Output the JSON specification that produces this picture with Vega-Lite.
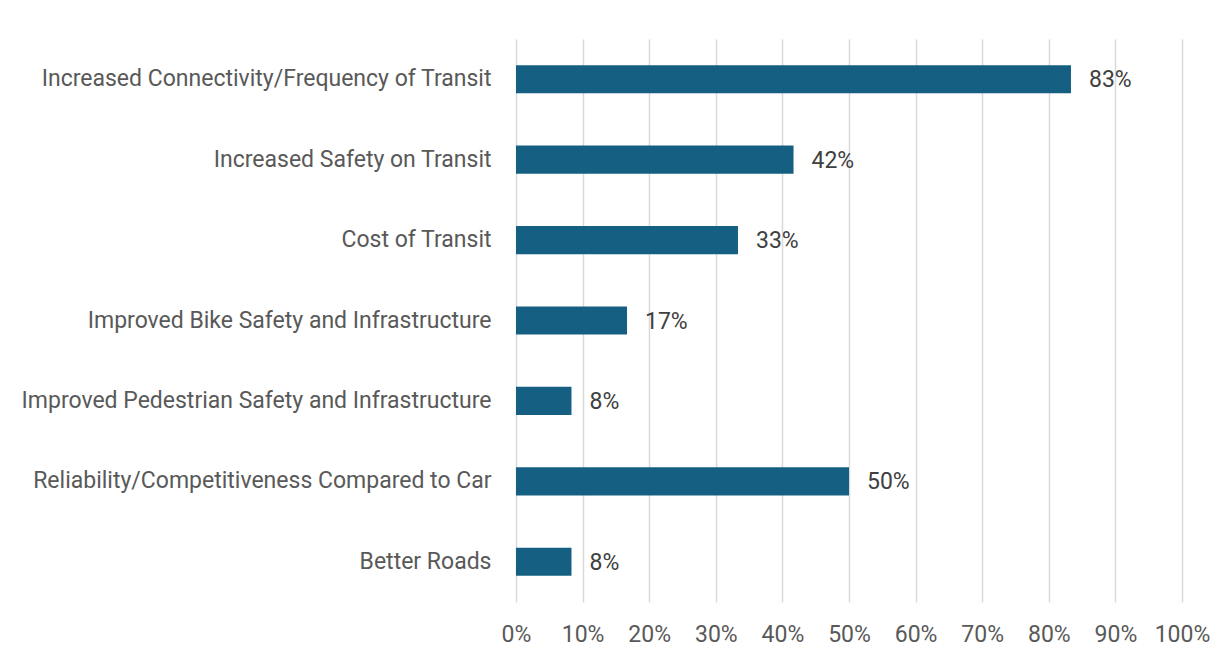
{
  "$schema": "https://vega.github.io/schema/vega-lite/v6.json",
  "width": 666,
  "height": 563,
  "autosize": {"type": "none"},
  "padding": {"left": 516, "top": 39, "right": 43, "bottom": 49},
  "background": "white",
  "config": {"view": {"stroke": null}, "font": "Roboto"},
  "data": {
    "values": [
      {"category": "Increased Connectivity/Frequency of Transit", "share": 0.8333},
      {"category": "Increased Safety on Transit", "share": 0.4167},
      {"category": "Cost of Transit", "share": 0.3333},
      {"category": "Improved Bike Safety and Infrastructure", "share": 0.1667},
      {"category": "Improved Pedestrian Safety and Infrastructure", "share": 0.0833},
      {"category": "Reliability/Competitiveness Compared to Car", "share": 0.5},
      {"category": "Better Roads", "share": 0.0833}
    ]
  },
  "encoding": {
    "y": {
      "field": "category",
      "type": "nominal",
      "sort": null,
      "scale": {"paddingInner": 0.65, "paddingOuter": 0.325},
      "axis": {
        "title": null,
        "domain": false,
        "ticks": false,
        "labelPadding": 25,
        "labelFontSize": 23,
        "labelColor": "#595959",
        "labelLimit": 600
      }
    },
    "x": {
      "field": "share",
      "type": "quantitative",
      "scale": {"domain": [0, 1], "nice": false},
      "axis": {
        "title": null,
        "format": ".0%",
        "values": [0, 0.1, 0.2, 0.3, 0.4, 0.5, 0.6, 0.7, 0.8, 0.9, 1],
        "labelOverlap": false,
        "labelBound": false,
        "labelFlush": false,
        "domain": false,
        "ticks": false,
        "labelPadding": 21,
        "labelFontSize": 23,
        "labelColor": "#595959",
        "gridColor": "#d9d9d9",
        "gridWidth": 1.5
      }
    }
  },
  "layer": [
    {"mark": {"type": "bar", "color": "#156082"}},
    {
      "mark": {"type": "text", "align": "left", "dx": 18, "dy": 1, "fontSize": 23, "color": "#404040"},
      "encoding": {"text": {"field": "share", "type": "quantitative", "format": ".0%"}}
    }
  ]
}
